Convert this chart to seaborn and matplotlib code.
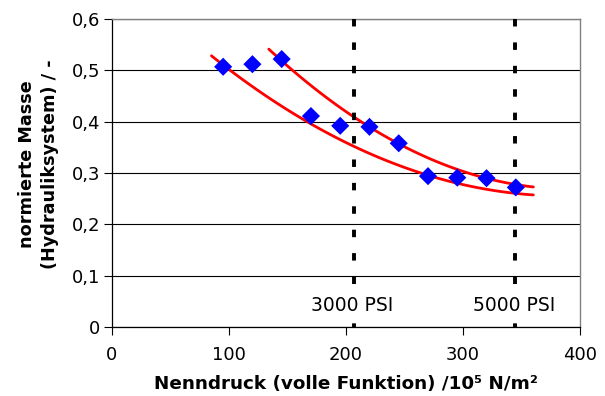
import matplotlib
matplotlib.use("Agg")
import matplotlib.pyplot as plt
import seaborn as sns

# Messpunkte
druck = [95, 120, 145, 170, 195, 220, 245, 270, 295, 320, 345]
masse = [0.507, 0.512, 0.522, 0.411, 0.392, 0.390, 0.358, 0.294, 0.291, 0.290, 0.272]

# Trendlinien, Stuetzpunkte
unten_x = [85, 110, 144, 161, 178, 206, 263, 297, 360]
unten_y = [0.528, 0.486, 0.433, 0.405, 0.384, 0.355, 0.300, 0.280, 0.257]
oben_x = [134, 161, 177, 206, 263, 320, 360]
oben_y = [0.543, 0.481, 0.461, 0.413, 0.336, 0.288, 0.274]

# Druckniveaus
psi_druck = [206.8, 344.7]
psi_text = ["3000 PSI", "5000 PSI"]

x_ticks = [0, 100, 200, 300, 400]
y_ticks = [0, 0.1, 0.2, 0.3, 0.4, 0.5, 0.6]
y_tick_labels = ["0", "0,1", "0,2", "0,3", "0,4", "0,5", "0,6"]

sns.set_style("ticks")
plt.rcParams['font.family'] = ['DejaVu Sans']
plt.rcParams['text.color'] = 'black'
plt.rcParams['axes.labelcolor'] = 'black'
plt.rcParams['xtick.color'] = 'black'
plt.rcParams['ytick.color'] = 'black'

fig = plt.figure(figsize=(6.05, 3.96), dpi=100)
ax = fig.add_axes([0.185, 0.174, 0.774, 0.778])

# Trendlinien (quadratisch)
for tx, ty in [(unten_x, unten_y), (oben_x, oben_y)]:
    sns.regplot(x=tx, y=ty, order=2, ci=None, scatter=False, truncate=True,
                ax=ax, line_kws=dict(color="#ff0000", lw=2.0, zorder=3))

# gestrichelte Linien bei 3000 und 5000 PSI (von oben nach unten)
for p, t in zip(psi_druck, psi_text):
    ax.plot([p, p], [0.6, 0], color="black", lw=2.8, dashes=(1.92, 4.1),
            zorder=4, solid_capstyle="butt", dash_capstyle="butt")
    ax.text(p - 1.5, 0.043, t, ha="center", va="center", fontsize=13.5,
            color="black", zorder=5,
            bbox=dict(facecolor="white", edgecolor="none", pad=0.5))

sns.scatterplot(x=druck, y=masse, marker="D", s=85, color="#0000ff",
                edgecolor="none", ax=ax, zorder=6)

ax.set_xlim(0, 400)
ax.set_ylim(0, 0.6)
ax.set_xticks(x_ticks)
ax.set_yticks(y_ticks)
ax.set_yticklabels(y_tick_labels)
ax.tick_params(axis="both", labelsize=13, length=5.5, width=0.8,
               color="black", direction="out")
ax.tick_params(axis="x", pad=8)
ax.tick_params(axis="y", pad=3)

ax.set_axisbelow(True)
ax.yaxis.grid(True, color="black", lw=0.8)
for s in ["left", "bottom"]:
    ax.spines[s].set_color("black")
    ax.spines[s].set_linewidth(0.9)
for s in ["top", "right"]:
    ax.spines[s].set_visible(True)
    ax.spines[s].set_color("#808080")
    ax.spines[s].set_linewidth(1.0)

ax.set_xlabel("Nenndruck (volle Funktion) /10⁵ N/m²", fontsize=13.2,
              fontweight="bold", labelpad=8)
ax.set_ylabel("normierte Masse\n(Hydrauliksystem) / -", fontsize=12.7,
              fontweight="bold", linespacing=1.35)
ax.yaxis.set_label_coords(-0.113, 0.53)

fig.savefig("out.png", dpi=100)
